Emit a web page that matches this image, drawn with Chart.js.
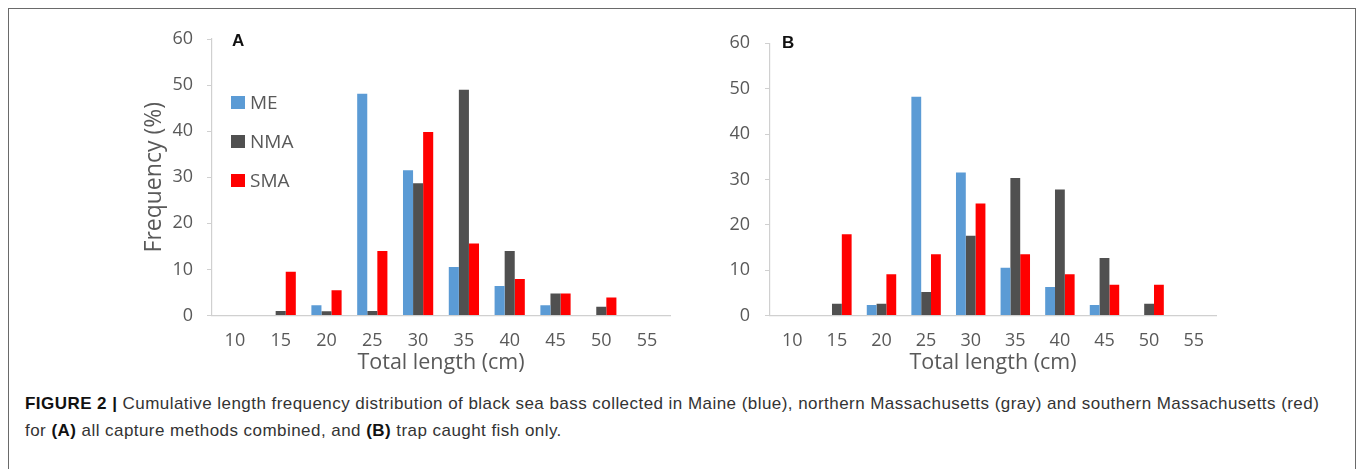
<!DOCTYPE html>
<html>
<head>
<meta charset="utf-8">
<script src="https://cdn.jsdelivr.net/npm/chart.js@4.4.1/dist/chart.umd.min.js"></script>
<style>
  html, body { margin: 0; padding: 0; background: #ffffff; }
  body { width: 1357px; height: 469px; position: relative; overflow: hidden; }
  #frame { position: absolute; left: 8px; top: 8px; width: 1348px; height: 480px; border: 1.5px solid #6a6a6a; box-sizing: border-box; }
  canvas { position: absolute; }
  .panel { position: absolute; font-family: "Liberation Sans", Arial, sans-serif; font-weight: bold; font-size: 17px; color: #111; line-height: 1; }
  .legend { position: absolute; left: 231px; font-family: "Open Sans", sans-serif; font-size: 19px; color: #595959; line-height: 1; }
  .legend .item { position: absolute; left: 0; white-space: nowrap; display: flex; align-items: center; height: 20px; }
  .legend .sw { display: inline-block; width: 14px; height: 13px; margin-right: 5px; }
  #caption { position: absolute; left: 25px; top: 390px; font-family: "Liberation Sans", Arial, sans-serif; font-size: 17px; letter-spacing: 0.45px; line-height: 27px; color: #333; white-space: nowrap; }
  #caption b { color: #111; }
</style>
</head>
<body>
<div id="frame"></div>
<canvas id="chartA" width="690" height="390" style="left:0px; top:0px;"></canvas>
<canvas id="chartB" width="540" height="390" style="left:700px; top:0px;"></canvas>
<div class="panel" style="left:232px; top:32px;">A</div>
<div class="panel" style="left:782px; top:34px;">B</div>
<div class="legend" id="legendA"></div>
<div id="caption"><b>FIGURE 2 |</b> Cumulative length frequency distribution of black sea bass collected in Maine (blue), northern Massachusetts (gray) and southern Massachusetts (red)<br>for <b>(A)</b> all capture methods combined, and <b>(B)</b> trap caught fish only.</div>
<script>
// ---- data ----
const categories = ['10', '15', '20', '25', '30', '35', '40', '45', '50', '55'];
const seriesNames = ['ME', 'NMA', 'SMA'];
const seriesColors = ['#5B9BD5', '#505050', '#FF0000'];

// Panel A: all capture methods combined
const meA  = [0, 0,   2.2, 48.1, 31.5, 10.5, 6.4,  2.2, 0,   0];
const nmaA = [0, 1.0, 0.9, 1.0,  28.7, 49.0, 14.0, 4.8, 1.9, 0];
const smaA = [0, 9.5, 5.5, 14.0, 39.8, 15.6, 7.9,  4.8, 3.9, 0];

// Panel B: trap caught fish only
const meB  = [0, 0,    2.3, 48.2, 31.5, 10.5, 6.3,  2.3,  0,   0];
const nmaB = [0, 2.6,  2.6, 5.2,  17.6, 30.3, 27.8, 12.7, 2.6, 0];
const smaB = [0, 17.9, 9.1, 13.5, 24.7, 13.5, 9.1,  6.8,  6.8, 0];

const yMin = 0, yMax = 60, yStep = 10;
const xTitle = 'Total length (cm)';
const yTitle = 'Frequency (%)';

// ---- chart builder ----
const TEXT = '#595959';
const AXIS = '#d0d0d0';

function makeDatasets(arrs) {
  return arrs.map((d, i) => ({
    label: seriesNames[i],
    data: d,
    backgroundColor: seriesColors[i],
    borderWidth: 0,
    categoryPercentage: 0.66,
    barPercentage: 1.0
  }));
}

function buildChart(id, arrs, cfg) {
  return new Chart(document.getElementById(id), {
    type: 'bar',
    data: { labels: categories, datasets: makeDatasets(arrs) },
    options: {
      responsive: false,
      animation: false,
      devicePixelRatio: 1,
      layout: { padding: cfg.padding },
      plugins: { legend: { display: false }, tooltip: { enabled: false } },
      scales: {
        x: {
          offset: true,
          grid: { display: false, drawTicks: false },
          border: { display: true, color: AXIS, width: 1.2 },
          ticks: { color: TEXT, font: { family: 'Open Sans', size: 18 }, padding: 15, maxRotation: 0, autoSkip: false },
          title: { display: true, text: xTitle, color: TEXT, font: { family: 'Open Sans', size: 21.5 }, padding: 0 },
          afterFit: s => { s.height = cfg.xHeight; }
        },
        y: {
          min: yMin, max: yMax,
          grid: { display: true, drawOnChartArea: false, drawTicks: true, tickLength: 5, color: AXIS },
          border: { display: true, color: AXIS, width: 1.2 },
          ticks: { stepSize: yStep, color: TEXT, font: { family: 'Open Sans', size: 18 }, padding: cfg.yPad },
          title: { display: cfg.showYTitle, text: yTitle, color: TEXT, font: { family: 'Open Sans', size: 23 }, padding: 0 },
          afterFit: s => { s.width = cfg.yWidth; }
        }
      }
    }
  });
}

// Panel A: chart area x 212..670, y 39..315.5
buildChart('chartA', [meA, nmaA, smaA], {
  padding: { left: 141, right: 20, top: 39, bottom: 14 },
  yWidth: 71, xHeight: 60.5, yPad: 14, showYTitle: true
});
// Panel B: chart area x 770..1216, y 43..315.5
buildChart('chartB', [meB, nmaB, smaB], {
  padding: { left: 0, right: 24, top: 43.3, bottom: 14 },
  yWidth: 70, xHeight: 60.5, yPad: 15, showYTitle: false
});

// legend for panel A built from series names/colors
const legend = document.getElementById('legendA');
const rowCenters = [102.7, 141.5, 180];
seriesNames.forEach((n, i) => {
  const it = document.createElement('div');
  it.className = 'item';
  it.style.top = (rowCenters[i] - 10) + 'px';
  it.innerHTML = '<span class="sw" style="background:' + seriesColors[i] + '"></span><span>' + n + '</span>';
  legend.appendChild(it);
});
</script>
</body>
</html>
